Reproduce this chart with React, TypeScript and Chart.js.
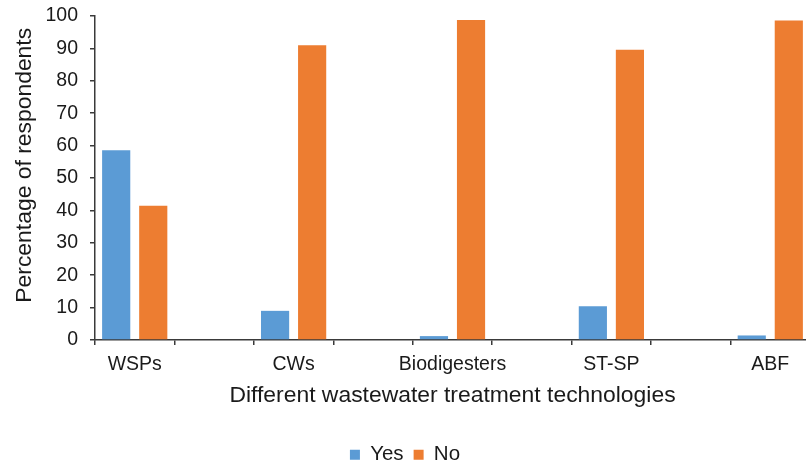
import React, { useEffect, useRef } from "react";
import { Chart, registerables } from "chart.js";

Chart.register(...registerables);

const categories = ["WSPs", "", "CWs", "", "Biodigesters", "", "ST-SP", "", "ABF"];
const yesValues = [58.6, null, 9, null, 1.2, null, 10.4, null, 1.4];
const noValues = [41.4, null, 91, null, 98.8, null, 89.6, null, 98.6];
const seriesNames = ["Yes", "No"];
const yMin = 0;
const yMax = 100;
const yStep = 10;
const xTitle = "Different wastewater treatment technologies";
const yTitle = "Percentage of respondents";

const BLUE = "#5B9BD5";
const ORANGE = "#ED7D31";
const AXIS = "#3a3a3a";
const TEXT = "#1a1a1a";
const FONT = "'Liberation Sans', Arial, sans-serif";

export default function App() {
  const ref = useRef<HTMLCanvasElement | null>(null);

  useEffect(() => {
    document.body.style.margin = "0";
    document.body.style.overflow = "hidden";
    const canvas = ref.current;
    if (!canvas) return;
    const chart = new Chart(canvas, {
      type: "bar",
      data: {
        labels: categories,
        datasets: [
          {
            label: seriesNames[0],
            data: yesValues as any,
            backgroundColor: BLUE,
            borderWidth: 0,
          },
          {
            label: seriesNames[1],
            data: noValues as any,
            backgroundColor: ORANGE,
            borderWidth: 0,
          },
        ],
      },
      options: {
        responsive: false,
        animation: false,
        devicePixelRatio: 1,
        layout: { padding: { top: 16, left: 0, right: 0, bottom: 0 } },
        datasets: {
          bar: { categoryPercentage: 0.933, barPercentage: 0.76 },
        },
        plugins: {
          tooltip: { enabled: false },
          legend: {
            position: "bottom",
            labels: {
              boxWidth: 10,
              boxHeight: 10,
              padding: 10,
              color: TEXT,
              font: { family: FONT, size: 20.5 },
            },
          },
        },
        scales: {
          x: {
            grid: {
              display: true,
              drawOnChartArea: false,
              drawTicks: true,
              tickLength: 5,
              color: AXIS,
              lineWidth: 1.5,
              offset: true,
            },
            border: { display: true, color: AXIS, width: 1.5 },
            ticks: {
              autoSkip: false,
              maxRotation: 0,
              padding: 8,
              color: TEXT,
              font: { family: FONT, size: 19.5 },
            },
            title: {
              display: true,
              text: xTitle,
              color: TEXT,
              font: { family: FONT, size: 22.9 },
              padding: { top: 0, bottom: 25 },
            },
            afterFit: (s: any) => {
              s.height = 94.5;
              s.paddingLeft = 0;
              s.paddingRight = 0;
            },
          },
          y: {
            min: yMin,
            max: yMax,
            grid: {
              display: true,
              drawOnChartArea: false,
              drawTicks: true,
              tickLength: 5,
              color: AXIS,
              lineWidth: 1.5,
            },
            border: { display: true, color: AXIS, width: 1.5 },
            ticks: {
              stepSize: yStep,
              padding: 12,
              color: TEXT,
              font: { family: FONT, size: 19.5 },
            },
            title: {
              display: true,
              text: "    " + yTitle,
              color: TEXT,
              font: { family: FONT, size: 22.9 },
              padding: { top: 10.5, bottom: 0 },
            },
            afterFit: (s: any) => {
              s.width = 95;
              s.paddingTop = 0;
              s.paddingBottom = 0;
            },
          },
        },
      },
    });
    return () => chart.destroy();
  }, []);

  return (
    <div style={{ position: "relative", width: 810, height: 475 }}>
      <canvas ref={ref} width={810} height={475} style={{ width: 810, height: 475, display: "block" }} />
    </div>
  );
}
